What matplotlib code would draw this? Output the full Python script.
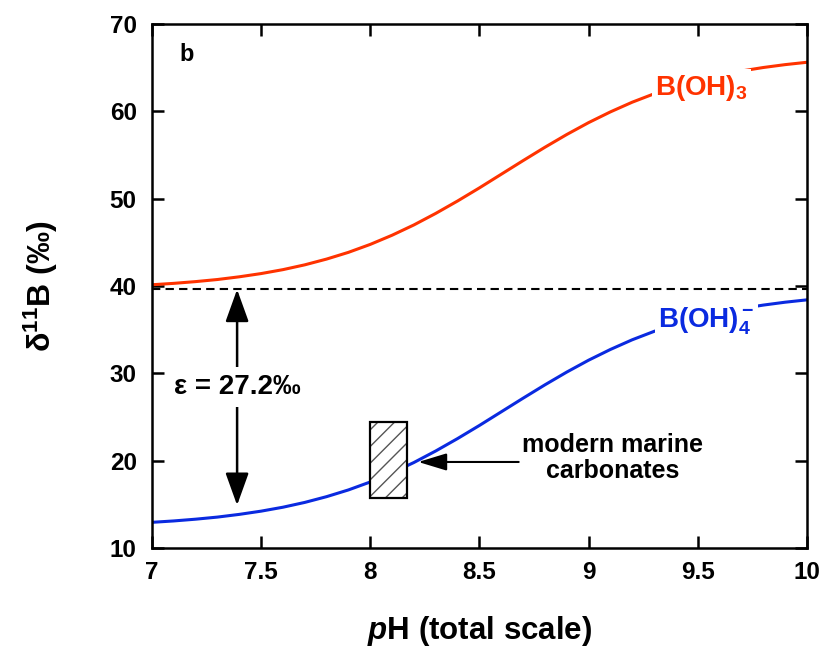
#!/usr/bin/env python3
# Boron isotope speciation vs pH (panel b)

import matplotlib
matplotlib.use("Agg")
import matplotlib.pyplot as plt
from matplotlib.patches import Rectangle

plt.rcParams["font.family"] = ["Liberation Sans", "DejaVu Sans"]
plt.rcParams["font.weight"] = "bold"
plt.rcParams["axes.labelweight"] = "bold"
plt.rcParams["mathtext.fontset"] = "custom"
plt.rcParams["mathtext.it"] = "Liberation Sans:italic:bold"
plt.rcParams["mathtext.rm"] = "Liberation Sans:bold"
plt.rcParams["hatch.linewidth"] = 1.0

# Values
ph = [7.0, 7.1, 7.2, 7.3, 7.4, 7.5, 7.6, 7.7, 7.8, 7.9,
      8.0, 8.1, 8.2, 8.3, 8.4, 8.5, 8.6, 8.7, 8.8, 8.9,
      9.0, 9.1, 9.2, 9.3, 9.4, 9.5, 9.6, 9.7, 9.8, 9.9, 10.0]
d11b_boric = [40.14, 40.30, 40.50, 40.74, 41.05, 41.42, 41.87, 42.42, 43.08, 43.85,
              44.76, 45.81, 46.99, 48.31, 49.73, 51.23, 52.79, 54.35, 55.88, 57.34,
              58.70, 59.93, 61.04, 62.00, 62.83, 63.53, 64.12, 64.61, 65.01, 65.34, 65.61]
d11b_borate = [12.94, 13.10, 13.30, 13.54, 13.85, 14.22, 14.67, 15.22, 15.88, 16.65,
               17.56, 18.61, 19.79, 21.11, 22.53, 24.03, 25.59, 27.15, 28.68, 30.14,
               31.50, 32.73, 33.84, 34.80, 35.63, 36.33, 36.92, 37.41, 37.81, 38.14, 38.41]
seawater = 39.6
epsilon = 27.2
carb_ph = (8.0, 8.17)
carb_d11b = (15.7, 24.4)

RED = "#ff3300"
BLUE = "#0a2ae0"


def main():
    fig = plt.figure(figsize=(8.25, 6.47), dpi=100)
    ax = fig.add_axes([0.1842, 0.153, 0.7938, 0.81])

    ax.plot(ph, d11b_boric, color=RED, lw=2.2, zorder=2)
    ax.plot(ph, d11b_borate, color=BLUE, lw=2.2, zorder=2)
    ax.axhline(seawater, color="black", lw=1.5, dashes=(4, 2.5), zorder=1)

    # curve labels with white background to break the lines
    box = dict(facecolor="white", edgecolor="none", pad=2.5)
    ax.text(9.304, 61.9, r"B(OH)$\mathregular{_3}$", color=RED, fontsize=20,
            ha="left", va="baseline", bbox=box, zorder=3)
    ax.text(9.318, 35.2, r"B(OH)$\mathregular{_4^-}$", color=BLUE, fontsize=20,
            ha="left", va="baseline", bbox=box, zorder=3)

    # fractionation arrow
    ax.annotate("", xy=(7.39, seawater), xytext=(7.39, 14.9),
                arrowprops=dict(arrowstyle="<|-|>,head_length=1.0,head_width=0.36",
                                mutation_scale=20, color="black", lw=1.8,
                                shrinkA=0, shrinkB=0), zorder=3)
    ax.text(7.39, 28.4, "\u03b5 = %.1f\u2030" % epsilon, fontsize=20,
            ha="center", va="center", zorder=4,
            bbox=dict(facecolor="white", edgecolor="none", pad=5))

    # modern marine carbonates box
    w = carb_ph[1] - carb_ph[0]
    h = carb_d11b[1] - carb_d11b[0]
    ax.add_patch(Rectangle((carb_ph[0], carb_d11b[0]), w, h, facecolor="white",
                           edgecolor="#555555", hatch="//", lw=0, zorder=4))
    ax.add_patch(Rectangle((carb_ph[0], carb_d11b[0]), w, h, facecolor="none",
                           edgecolor="black", lw=1.6, zorder=5))
    ax.annotate("", xy=(8.22, 19.85), xytext=(8.68, 19.85),
                arrowprops=dict(arrowstyle="-|>,head_length=1.25,head_width=0.38",
                                mutation_scale=14, color="black", lw=1.5,
                                shrinkA=0, shrinkB=0), zorder=5)
    ax.text(9.11, 20.3, "modern marine\ncarbonates", fontsize=18,
            ha="center", va="center", linespacing=1.1)

    ax.text(7.128, 66.5, "b", fontsize=17, ha="left", va="center")

    ax.set_xlim(7, 10)
    ax.set_ylim(10, 70)
    ax.set_xticks([7, 7.5, 8, 8.5, 9, 9.5, 10])
    ax.set_xticklabels(["7", "7.5", "8", "8.5", "9", "9.5", "10"])
    ax.set_yticks([10, 20, 30, 40, 50, 60, 70])
    ax.tick_params(direction="in", length=8.5, width=1.8, labelsize=17.5,
                   top=True, right=True)
    ax.tick_params(axis="x", pad=9)
    ax.tick_params(axis="y", pad=11)
    for s in ax.spines.values():
        s.set_linewidth(1.8)

    ax.set_xlabel(r"$\mathit{p}$H (total scale)", fontsize=22.5, fontweight="bold",
                  labelpad=22)
    ax.set_ylabel(r"$\mathregular{\delta^{11}}$B (‰)", fontsize=23, fontweight="bold",
                  labelpad=36)

    fig.savefig("out.png", dpi=100)


if __name__ == "__main__":
    main()
